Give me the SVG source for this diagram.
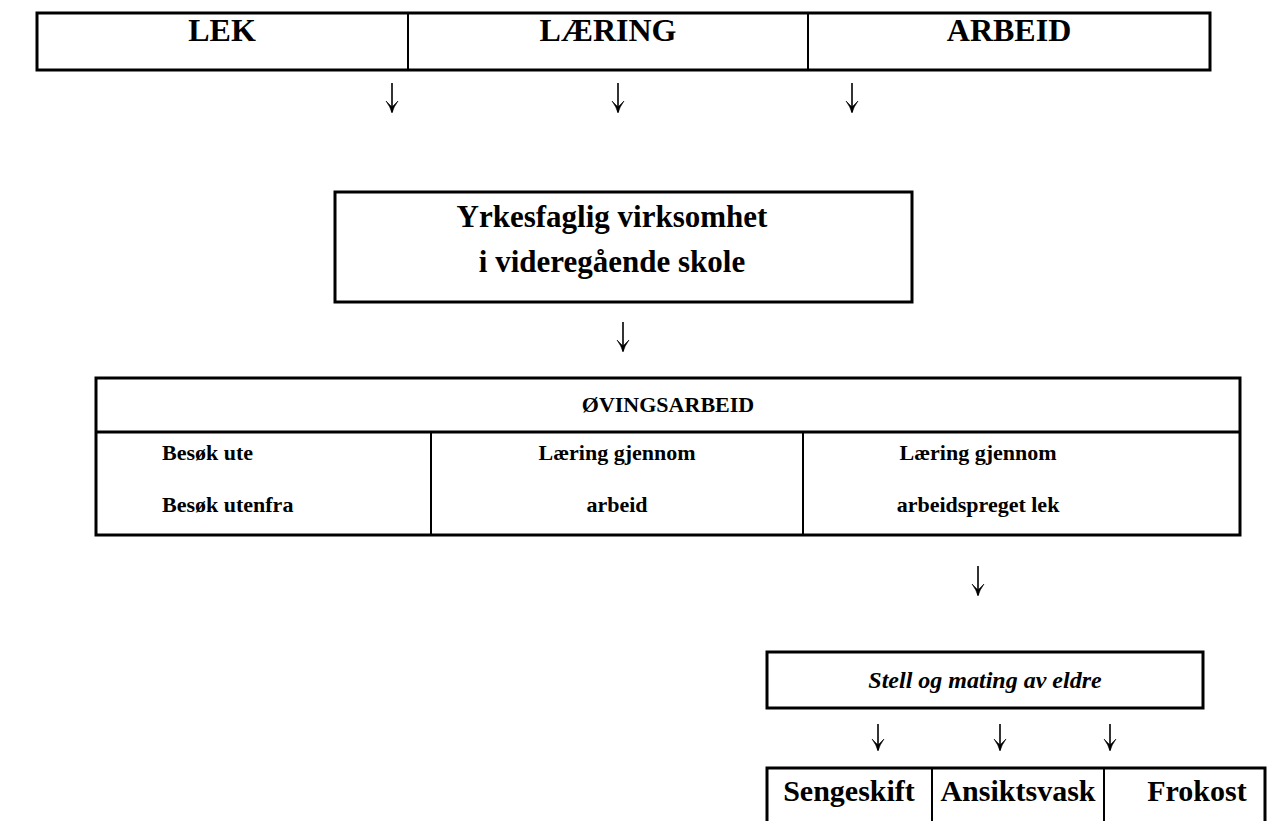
<svg xmlns="http://www.w3.org/2000/svg" width="1268" height="821" viewBox="0 0 1268 821">
<style>
.t{font-family:"Liberation Serif","Times New Roman",serif;font-weight:bold;fill:#000}
.big{font-size:32px}
.mid{font-size:31px}
.sm{font-size:22px}
.bt{font-size:30px}
.it{font-style:italic;font-size:24px}
.box{fill:#fff;stroke:#000;stroke-width:3}
.div{stroke:#000;stroke-width:2}
.stem{stroke:#000;stroke-width:1.6}
</style>
<defs>
<path id="head" d="M-6,-12 Q-1.5,-6 0,0 Q1.5,-6 6,-12 Q1,-7 0,-6 Q-1,-7 -6,-12 Z" fill="#000" stroke="#000" stroke-width="0.6"/>
</defs>
<rect width="1268" height="821" fill="#fff"/>
<g id="top-table">
<rect class="box" x="37" y="13" width="1173" height="57"/>
<line class="div" x1="408" y1="13" x2="408" y2="70"/>
<line class="div" x1="808" y1="13" x2="808" y2="70"/>
<text class="t big" x="222" y="41" text-anchor="middle">LEK</text>
<text class="t big" x="608" y="41" text-anchor="middle">LÆRING</text>
<text class="t big" x="1009" y="41" text-anchor="middle">ARBEID</text>
</g>
<g id="yrkesfaglig">
<rect class="box" x="335" y="192" width="577" height="110"/>
<text class="t mid" x="612" y="227" text-anchor="middle">Yrkesfaglig virksomhet</text>
<text class="t mid" x="612" y="272" text-anchor="middle">i videregående skole</text>
</g>
<g id="ovingsarbeid">
<rect class="box" x="96" y="378" width="1144" height="157"/>
<line class="box" x1="96" y1="432" x2="1240" y2="432"/>
<line class="div" x1="431" y1="432" x2="431" y2="535"/>
<line class="div" x1="803" y1="432" x2="803" y2="535"/>
<text class="t sm" x="668" y="412" text-anchor="middle">ØVINGSARBEID</text>
<text class="t sm" x="162" y="460">Besøk ute</text>
<text class="t sm" x="162" y="512">Besøk utenfra</text>
<text class="t sm" x="617" y="460" text-anchor="middle">Læring gjennom</text>
<text class="t sm" x="617" y="512" text-anchor="middle">arbeid</text>
<text class="t sm" x="978" y="460" text-anchor="middle">Læring gjennom</text>
<text class="t sm" x="978" y="512" text-anchor="middle">arbeidspreget lek</text>
</g>
<g id="stell">
<rect class="box" x="767" y="652" width="436" height="56"/>
<text class="t it" x="985" y="688" text-anchor="middle">Stell og mating av eldre</text>
</g>
<g id="bottom-table">
<path class="box" d="M767,830 V768 H1265 V830" fill="none"/>
<line class="div" x1="932" y1="768" x2="932" y2="830"/>
<line class="div" x1="1104" y1="768" x2="1104" y2="830"/>
<text class="t bt" x="849" y="801" text-anchor="middle">Sengeskift</text>
<text class="t bt" x="1018" y="801" text-anchor="middle">Ansiktsvask</text>
<text class="t bt" x="1197" y="801" text-anchor="middle">Frokost</text>
</g>
<g id="connectors">
<line class="stem" x1="392" y1="83" x2="392" y2="112"/><use href="#head" x="392" y="113"/>
<line class="stem" x1="618" y1="83" x2="618" y2="112"/><use href="#head" x="618" y="113"/>
<line class="stem" x1="852" y1="83" x2="852" y2="112"/><use href="#head" x="852" y="113"/>
<line class="stem" x1="623" y1="322" x2="623" y2="351"/><use href="#head" x="623" y="352"/>
<line class="stem" x1="978" y1="566" x2="978" y2="595"/><use href="#head" x="978" y="596"/>
<line class="stem" x1="878" y1="724" x2="878" y2="750"/><use href="#head" x="878" y="751"/>
<line class="stem" x1="1000" y1="724" x2="1000" y2="750"/><use href="#head" x="1000" y="751"/>
<line class="stem" x1="1110" y1="724" x2="1110" y2="750"/><use href="#head" x="1110" y="751"/>
</g>
</svg>
